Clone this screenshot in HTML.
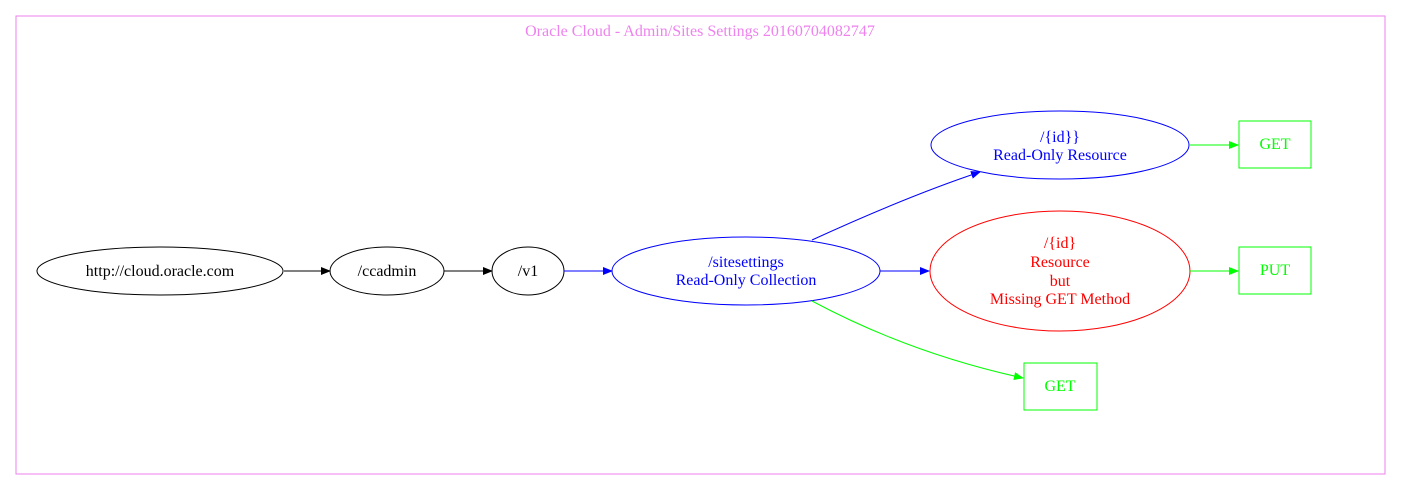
<!DOCTYPE html>
<html><head><meta charset="utf-8"><style>html,body{margin:0;padding:0;background:#fff}svg{display:block}</style></head>
<body>
<svg width="1402" height="491" viewBox="0 0 1402 491" xmlns="http://www.w3.org/2000/svg" font-family="Liberation Serif, serif" font-size="16">
<defs>
<marker id="ak" markerWidth="10" markerHeight="8" refX="9" refY="4" orient="auto" markerUnits="userSpaceOnUse"><path d="M0,0 L10,4 L0,8z" fill="#000"/></marker>
<marker id="ab" markerWidth="10" markerHeight="8" refX="9" refY="4" orient="auto" markerUnits="userSpaceOnUse"><path d="M0,0 L10,4 L0,8z" fill="#00f"/></marker>
<marker id="ag" markerWidth="10" markerHeight="8" refX="9" refY="4" orient="auto" markerUnits="userSpaceOnUse"><path d="M0,0 L10,4 L0,8z" fill="#0f0"/></marker>
</defs>
<rect x="16" y="16" width="1369" height="458" fill="none" stroke="#ee82ee"/>
<text x="700" y="36" text-anchor="middle" fill="#ee82ee">Oracle Cloud - Admin/Sites Settings 20160704082747</text>

<ellipse cx="160" cy="271" rx="123" ry="24" fill="none" stroke="#000"/>
<text x="160" y="276" text-anchor="middle">http://cloud.oracle.com</text>
<ellipse cx="387" cy="271" rx="57" ry="24" fill="none" stroke="#000"/>
<text x="387" y="276" text-anchor="middle">/ccadmin</text>
<ellipse cx="528" cy="271" rx="36" ry="24" fill="none" stroke="#000"/>
<text x="528" y="276" text-anchor="middle">/v1</text>

<ellipse cx="746" cy="271" rx="134" ry="34" fill="none" stroke="#00f"/>
<text x="746" y="267" text-anchor="middle" fill="#00f">/sitesettings</text>
<text x="746" y="285" text-anchor="middle" fill="#00f">Read-Only Collection</text>

<ellipse cx="1060" cy="145" rx="129" ry="34" fill="none" stroke="#00f"/>
<text x="1060" y="142" text-anchor="middle" fill="#00f">/{id}}</text>
<text x="1060" y="160" text-anchor="middle" fill="#00f">Read-Only Resource</text>

<ellipse cx="1060" cy="271" rx="130" ry="60" fill="none" stroke="#f00"/>
<text x="1060" y="248" text-anchor="middle" fill="#f00">/{id}</text>
<text x="1060" y="267" text-anchor="middle" fill="#f00">Resource</text>
<text x="1060" y="286" text-anchor="middle" fill="#f00">but</text>
<text x="1060" y="304" text-anchor="middle" fill="#f00">Missing GET Method</text>

<rect x="1239" y="121" width="72" height="47" fill="none" stroke="#0f0"/>
<text x="1275" y="149" text-anchor="middle" fill="#0f0">GET</text>
<rect x="1239" y="247" width="72" height="47" fill="none" stroke="#0f0"/>
<text x="1275" y="275" text-anchor="middle" fill="#0f0">PUT</text>
<rect x="1024" y="363" width="73" height="47" fill="none" stroke="#0f0"/>
<text x="1060" y="391" text-anchor="middle" fill="#0f0">GET</text>

<line x1="284" y1="271" x2="330" y2="271" stroke="#000" marker-end="url(#ak)"/>
<line x1="444" y1="271" x2="492" y2="271" stroke="#000" marker-end="url(#ak)"/>
<line x1="564" y1="271" x2="612" y2="271" stroke="#00f" marker-end="url(#ab)"/>
<line x1="880" y1="271" x2="929" y2="271" stroke="#00f" marker-end="url(#ab)"/>
<line x1="1190" y1="145" x2="1238" y2="145" stroke="#0f0" marker-end="url(#ag)"/>
<line x1="1190" y1="271" x2="1238" y2="271" stroke="#0f0" marker-end="url(#ag)"/>
<path d="M812,240 C860,218 920,192 980,172" fill="none" stroke="#00f" marker-end="url(#ab)"/>
<path d="M812,301 C870,332 940,360 1023,378" fill="none" stroke="#0f0" marker-end="url(#ag)"/>
</svg>
</body></html>
